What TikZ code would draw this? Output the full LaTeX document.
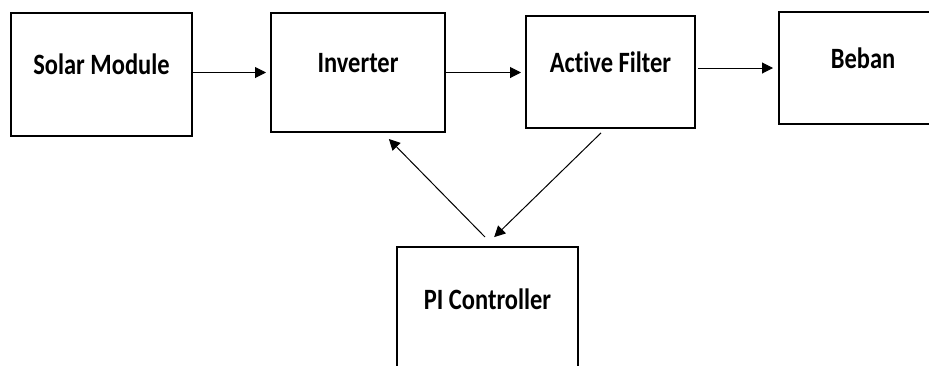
\documentclass[tikz,border=0pt]{standalone}
\usepackage{fontspec}
\setmainfont{Carlito}[FakeStretch=0.83, Ligatures=NoCommon]
\usetikzlibrary{arrows.meta,positioning,calc}
\tikzset{
  blk/.style={draw, rectangle, line width=1pt, align=center, text height=8pt, text depth=8pt, font=\fontsize{14.75}{17}\selectfont\bfseries},
  arr/.style={-{Triangle[length=5.5pt,width=5.5pt]}, line width=0.5pt},
}
\begin{document}
\begin{tikzpicture}[x=0.5pt, y=-0.5pt]
\useasboundingbox (0,0) rectangle (929,365);

\node[blk, minimum width=90.5pt, minimum height=61.5pt] (solar) at (101.5,74.5) {Solar Module};
\node[blk, minimum width=87pt, minimum height=59.5pt, right=38.5pt of solar, yshift=1pt] (inv) {Inverter};
\node[blk, minimum width=84.5pt, minimum height=56pt, right=39.5pt of inv, yshift=0.25pt] (af) {Active Filter};
\node[blk, minimum width=84pt, minimum height=56pt, right=41pt of af, yshift=2pt] (beban) {Beban};
\node[blk, minimum width=90.5pt, minimum height=62pt] (pi) at (487.5,309) {PI Controller};

\draw[arr, shorten >=2pt] (solar.east |- inv.west) -- (inv.west);
\draw[arr, shorten >=2pt] (inv.east) -- (inv.east -| af.west);
\draw[arr, shorten <=1pt, shorten >=2.5pt] (af.east |- beban.west) -- (beban.west);
\draw[arr, shorten <=6.3pt, shorten >=4.2pt] ($(pi.north)+(6.3,0)$) -- ($(inv.south)+(25,0)$);
\draw[arr, shorten <=2.8pt, shorten >=6.4pt] ($(af.south)+(-5.5,0)$) -- ($(pi.north)+(-2.5,0)$);

\end{tikzpicture}
\end{document}
